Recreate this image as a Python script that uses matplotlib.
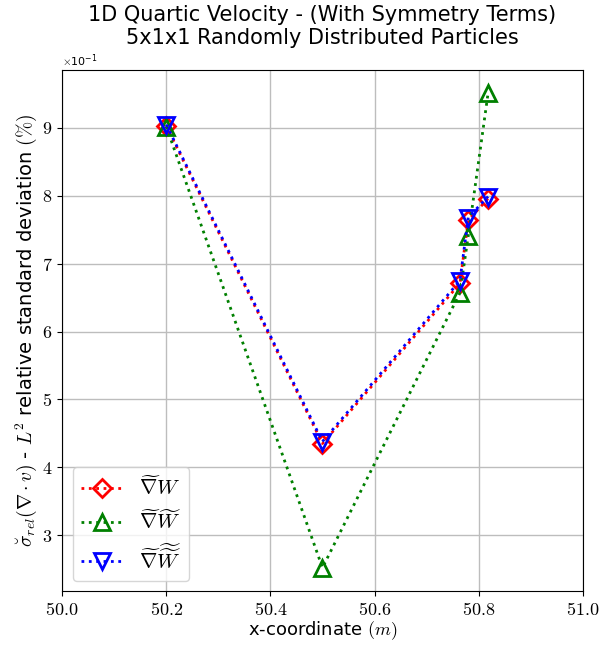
import numpy as np
import matplotlib
matplotlib.use("Agg")
import matplotlib.pyplot as plt

plt.rcParams["mathtext.fontset"] = "cm"
plt.rcParams["axes.formatter.use_mathtext"] = True

# particle x-coordinates (m) and relative standard deviation of div(v) (%)
x_coords = [50.2, 50.5, 50.764, 50.780, 50.818]
sigma_w1 = [0.903, 0.435, 0.671, 0.764, 0.796]
sigma_w2 = [0.902, 0.252, 0.657, 0.741, 0.951]
sigma_w3 = [0.905, 0.438, 0.675, 0.768, 0.799]

labels = [
    r"$\widetilde{\nabla}W$",
    r"$\widetilde{\nabla}\widetilde{W}$",
    r"$\widetilde{\nabla}\widetilde{\widetilde{W}}$",
]


def main():
    fig, ax = plt.subplots(figsize=(6.09, 6.45), dpi=100)
    fig.subplots_adjust(left=0.102, right=0.957, top=0.892, bottom=0.083)

    style = dict(linestyle=":", linewidth=2, markersize=11,
                 markerfacecolor="none", markeredgewidth=2)
    ax.plot(x_coords, sigma_w1, color="red", marker="D", label=labels[0],
            **{**style, "markersize": 9})
    ax.plot(x_coords, sigma_w2, color="green", marker="^", label=labels[1], **style)
    ax.plot(x_coords, sigma_w3, color="blue", marker="v", label=labels[2], **style)

    ax.set_xlim(50.0, 51.0)
    ax.set_xticks(np.arange(50.0, 51.01, 0.2))
    ax.ticklabel_format(axis="y", style="sci", scilimits=(0, 0), useMathText=True)
    ax.grid(True, color="#bdbdbd", linewidth=1)

    for lab in ax.get_xticklabels() + ax.get_yticklabels():
        lab.set_fontfamily("cmr10")
        lab.set_fontsize(13)
    ax.yaxis.get_offset_text().set_fontsize(8)

    ax.set_xlabel(r"x-coordinate $(m)$", fontsize=13, labelpad=1)
    ax.set_ylabel(r"$\breve{\sigma}_{rel}(\nabla\cdot v)$ - $L^2$ relative standard deviation $(\%)$",
                  fontsize=14, labelpad=2)
    ax.set_title("1D Quartic Velocity - (With Symmetry Terms)\n5x1x1 Randomly Distributed Particles",
                 fontsize=15)
    ax.legend(loc="lower left", fontsize=15, handlelength=2.0)

    fig.savefig("out.png", dpi=100)


if __name__ == "__main__":
    main()
